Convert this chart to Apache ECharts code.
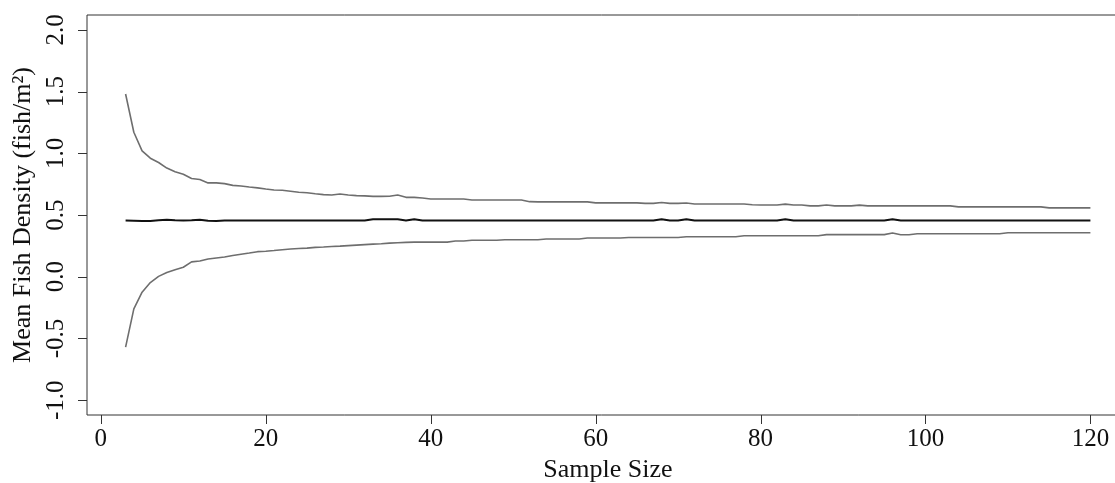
<!DOCTYPE html>
<html>
<head>
<meta charset="utf-8">
<title>Mean Fish Density vs Sample Size</title>
<script src="https://cdn.jsdelivr.net/npm/echarts@6/dist/echarts.min.js"></script>
<style>
  html, body { margin: 0; padding: 0; background: #fff; }
  #chart { width: 1115px; height: 483px; }
</style>
</head>
<body>
<div id="chart"></div>
<script>
// sample sizes 3..120
const sampleSizes = [
  3, 4, 5, 6, 7, 8, 9, 10, 11, 12, 13, 14, 15, 16, 17, 18, 19, 20,
  21, 22, 23, 24, 25, 26, 27, 28, 29, 30, 31, 32, 33, 34, 35, 36, 37, 38, 39, 40,
  41, 42, 43, 44, 45, 46, 47, 48, 49, 50, 51, 52, 53, 54, 55, 56, 57, 58, 59, 60,
  61, 62, 63, 64, 65, 66, 67, 68, 69, 70, 71, 72, 73, 74, 75, 76, 77, 78, 79, 80,
  81, 82, 83, 84, 85, 86, 87, 88, 89, 90, 91, 92, 93, 94, 95, 96, 97, 98, 99, 100,
  101, 102, 103, 104, 105, 106, 107, 108, 109, 110, 111, 112, 113, 114, 115, 116, 117, 118, 119, 120
]

// upper bound
const upperValues = [
  1.48, 1.17, 1.02, 0.96, 0.925, 0.88, 0.85, 0.83, 0.795, 0.787, 0.76, 0.76, 0.754, 0.74, 0.735, 0.727, 0.72, 0.711,
  0.703, 0.70, 0.692, 0.684, 0.68, 0.672, 0.665, 0.662, 0.670, 0.662, 0.657, 0.655, 0.651, 0.651, 0.652, 0.662, 0.643, 0.643, 0.638, 0.630,
  0.630, 0.630, 0.630, 0.630, 0.622, 0.622, 0.622, 0.622, 0.622, 0.622, 0.622, 0.608, 0.606, 0.606, 0.606, 0.606, 0.606, 0.606, 0.606, 0.598,
  0.598, 0.598, 0.598, 0.598, 0.598, 0.594, 0.594, 0.601, 0.594, 0.594, 0.597, 0.589, 0.589, 0.589, 0.589, 0.589, 0.589, 0.589, 0.583, 0.581,
  0.581, 0.581, 0.588, 0.581, 0.581, 0.574, 0.574, 0.581, 0.574, 0.574, 0.574, 0.580, 0.574, 0.574, 0.574, 0.574, 0.574, 0.574, 0.574, 0.574,
  0.574, 0.574, 0.574, 0.566, 0.566, 0.566, 0.566, 0.566, 0.566, 0.566, 0.566, 0.566, 0.566, 0.566, 0.558, 0.558, 0.558, 0.558, 0.558, 0.558
]

// mean
const meanValues = [
  0.455, 0.453, 0.451, 0.451, 0.458, 0.462, 0.457, 0.456, 0.458, 0.461, 0.454, 0.452, 0.455, 0.456, 0.456, 0.456, 0.456, 0.456,
  0.456, 0.456, 0.456, 0.456, 0.456, 0.456, 0.456, 0.456, 0.456, 0.456, 0.456, 0.456, 0.466, 0.466, 0.466, 0.466, 0.456, 0.466, 0.456, 0.456,
  0.456, 0.456, 0.456, 0.456, 0.456, 0.456, 0.456, 0.456, 0.456, 0.456, 0.456, 0.456, 0.456, 0.456, 0.456, 0.456, 0.456, 0.456, 0.456, 0.456,
  0.456, 0.456, 0.456, 0.456, 0.456, 0.456, 0.456, 0.466, 0.456, 0.456, 0.466, 0.456, 0.456, 0.456, 0.456, 0.456, 0.456, 0.456, 0.456, 0.456,
  0.456, 0.456, 0.466, 0.456, 0.456, 0.456, 0.456, 0.456, 0.456, 0.456, 0.456, 0.456, 0.456, 0.456, 0.456, 0.466, 0.456, 0.456, 0.456, 0.456,
  0.456, 0.456, 0.456, 0.456, 0.456, 0.456, 0.456, 0.456, 0.456, 0.456, 0.456, 0.456, 0.456, 0.456, 0.456, 0.456, 0.456, 0.456, 0.456, 0.456
]

// lower bound
const lowerValues = [
  -0.57, -0.26, -0.125, -0.047, 0.003, 0.034, 0.056, 0.077, 0.12, 0.127, 0.143, 0.152, 0.16, 0.172, 0.182, 0.192, 0.203, 0.206,
  0.212, 0.219, 0.224, 0.229, 0.232, 0.238, 0.241, 0.245, 0.248, 0.252, 0.256, 0.26, 0.264, 0.267, 0.272, 0.275, 0.278, 0.28, 0.28, 0.28,
  0.28, 0.28, 0.289, 0.289, 0.295, 0.295, 0.295, 0.295, 0.300, 0.300, 0.300, 0.300, 0.300, 0.306, 0.306, 0.306, 0.306, 0.306, 0.314, 0.314,
  0.314, 0.314, 0.314, 0.318, 0.318, 0.318, 0.318, 0.318, 0.318, 0.318, 0.324, 0.324, 0.324, 0.324, 0.324, 0.324, 0.324, 0.332, 0.332, 0.332,
  0.332, 0.332, 0.332, 0.332, 0.332, 0.332, 0.332, 0.341, 0.341, 0.341, 0.341, 0.341, 0.341, 0.341, 0.341, 0.354, 0.340, 0.340, 0.348, 0.348,
  0.348, 0.348, 0.348, 0.348, 0.348, 0.348, 0.348, 0.348, 0.348, 0.356, 0.356, 0.356, 0.356, 0.356, 0.356, 0.356, 0.356, 0.356, 0.356, 0.356
]

const xTicks = [0, 20, 40, 60, 80, 100, 120]
const yTicks = [-1.0, -0.5, 0.0, 0.5, 1.0, 1.5, 2.0]

// R style axis limits (4% padding)
const xMin = -1.68, xMax = 124.68
const yMin = -1.12, yMax = 2.12

const font = '"Liberation Serif", "DejaVu Serif", serif'
const pair = vals => sampleSizes.map((n, i) => [n, vals[i]])

const chart = echarts.init(document.getElementById('chart'))

chart.setOption({
  animation: false,
  textStyle: { fontFamily: font },
  grid: {
    show: true,
    left: 87,
    top: 15,
    width: 1042,
    height: 400,
    outerBoundsMode: 'none',
    containLabel: false,
    borderColor: '#333',
    borderWidth: 1,
  },
  xAxis: {
    type: 'value',
    position: 'bottom',
    min: xMin,
    max: xMax,
    name: 'Sample Size',
    nameLocation: 'middle',
    nameGap: 38,
    nameTextStyle: { fontSize: 26, color: '#111', fontFamily: font },
    axisLine: { show: false, onZero: false },
    splitLine: { show: false },
    axisTick: { show: false },
    axisLabel: {
      fontSize: 25, color: '#111', fontFamily: font, margin: 12,
      customValues: xTicks,
    },
  },
  yAxis: {
    type: 'value',
    position: 'left',
    min: yMin,
    max: yMax,
    name: 'Mean Fish Density (fish/m²)',
    nameLocation: 'middle',
    nameGap: 51,
    nameTextStyle: { fontSize: 26, color: '#111', fontFamily: font },
    axisLine: { show: false, onZero: false },
    splitLine: { show: false },
    axisTick: { show: false },
    axisLabel: {
      fontSize: 25, color: '#111', fontFamily: font, margin: 18, rotate: 90,
      customValues: yTicks,
      formatter: v => v.toFixed(1),
    },
  },
  series: [
    {
      name: 'Upper',
      type: 'line',
      data: pair(upperValues),
      showSymbol: false,
      lineStyle: { color: '#6e6e6e', width: 1.6 },
    },
    {
      name: 'Mean',
      type: 'line',
      data: pair(meanValues),
      showSymbol: false,
      lineStyle: { color: '#111', width: 2 },
    },
    {
      name: 'Lower',
      type: 'line',
      data: pair(lowerValues),
      showSymbol: false,
      lineStyle: { color: '#6e6e6e', width: 1.6 },
    },
  ],
})

// outward tick marks, laid out with left/top from the axis scales
const tickLen = 9
const ticks = []
const bottomY = Math.round(chart.convertToPixel({ yAxisIndex: 0 }, yMin))
const leftX = Math.round(chart.convertToPixel({ xAxisIndex: 0 }, xMin))
xTicks.forEach(v => {
  const x = Math.round(chart.convertToPixel({ xAxisIndex: 0 }, v))
  ticks.push({
    type: 'rect', silent: true, z: 100,
    left: x, top: bottomY,
    shape: { width: 1, height: tickLen },
    style: { fill: '#333' },
  })
})
yTicks.forEach(v => {
  const y = Math.round(chart.convertToPixel({ yAxisIndex: 0 }, v))
  ticks.push({
    type: 'rect', silent: true, z: 100,
    left: leftX - tickLen, top: y,
    shape: { width: tickLen, height: 1 },
    style: { fill: '#333' },
  })
})
chart.setOption({ graphic: { elements: ticks } })
</script>
</body>
</html>
